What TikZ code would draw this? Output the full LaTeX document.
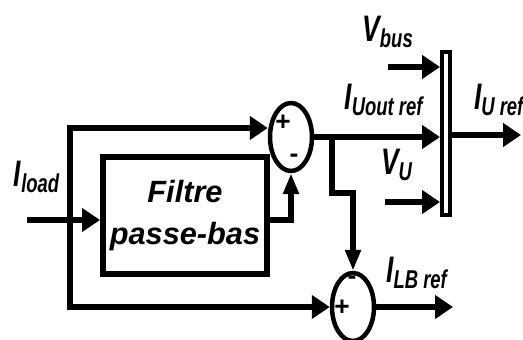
\documentclass[tikz,border=0pt]{standalone}
\usepackage{fontspec}
\setmainfont{Liberation Sans}
\usepackage{graphicx}
\usetikzlibrary{arrows.meta,shapes.geometric}
\newcommand{\tallbox}[1]{\scalebox{1}[1.4]{#1}}

\begin{document}
\begin{tikzpicture}[x=0.02cm, y=-0.02cm, line width=0.12cm,
  arr/.style={-{Triangle[length=0.36cm,width=0.46cm]}},
  varr/.style={-{Triangle[length=0.42cm,width=0.3cm]}},
  sumnode/.style={draw,ellipse,line width=0.09cm,minimum width=0.84cm,minimum height=1.36cm,inner sep=0pt},
  sgn/.style={font=\fontsize{15}{15}\selectfont\bfseries,inner sep=0pt},
  lbl/.style={font=\fontsize{15}{18}\selectfont\bfseries\itshape,inner sep=0pt}]
\useasboundingbox (0,0) rectangle (523,340);
% blocks
\node[draw,minimum width=3.28cm,minimum height=2.34cm,align=center,
  font=\fontsize{17.5}{24}\selectfont\bfseries\itshape] (lpf) at (185,215.5) {Filtre\\passe-bas};
\node[sumnode] (sum1) at (291,137) {};
\node[sumnode] (sum2) at (353,307) {};
\node[draw,line width=0.08cm,minimum width=0.16cm,minimum height=3.26cm,inner sep=0pt] (bar) at (446,133.5) {};
\node[sgn] (p1) at ([shift={(-8,-14)}]sum1.center) {+};
\node[sgn] (m1) at ([shift={(3,21)}]sum1.center) {-};
\node[sgn] (m2) at ([shift={(-1,-27)}]sum2.center) {-};
\node[sgn] (p2) at ([shift={(-11,1)}]sum2.center) {+};
% labels
\node[lbl] (iload) at (37,177) {\tallbox{I\textsubscript{load}}};
\node[lbl] (vbus) at (388,32) {\tallbox{V\textsubscript{bus}}};
\node[lbl] (iuout) at (384,100) {\tallbox{I\textsubscript{Uout ref}}};
\node[lbl] (vu) at (397,165) {\tallbox{V\textsubscript{U}}};
\node[lbl,anchor=west] (iuref) at (471,100) {\tallbox{I\textsubscript{U ref}}};
\node[lbl] (ilb) at (417,273) {\tallbox{I\textsubscript{LB ref}}};
% connectors
\coordinate (in) at (27,220);
\coordinate (split) at (70,220);
\coordinate (br) at (332,137);
\coordinate (vbin) at (388,67);
\coordinate (vuin) at (385,202);
\coordinate (uout) at (521,135);
\coordinate (lbout) at (453,307);
\draw[arr] (in) -- (in -| lpf.west);
\draw[arr] (split) |- ([shift={(0,-9)}]sum1.west);
\draw[arr] (split) |- (sum2.west);
\draw[varr] (lpf.east |- in) -| (sum1.south);
\draw[arr] (sum1.east) -- (bar.west |- sum1.east);
\draw[varr] (br) -- ++(0,56) -| (sum2.north);
\draw[arr] (sum2.east) -- (lbout);
\draw[arr] (vbin) -- (vbin -| bar.west);
\draw[arr] (vuin) -- (vuin -| bar.west);
\draw[arr] (bar.east |- uout) -- (uout);
\end{tikzpicture}
\end{document}
